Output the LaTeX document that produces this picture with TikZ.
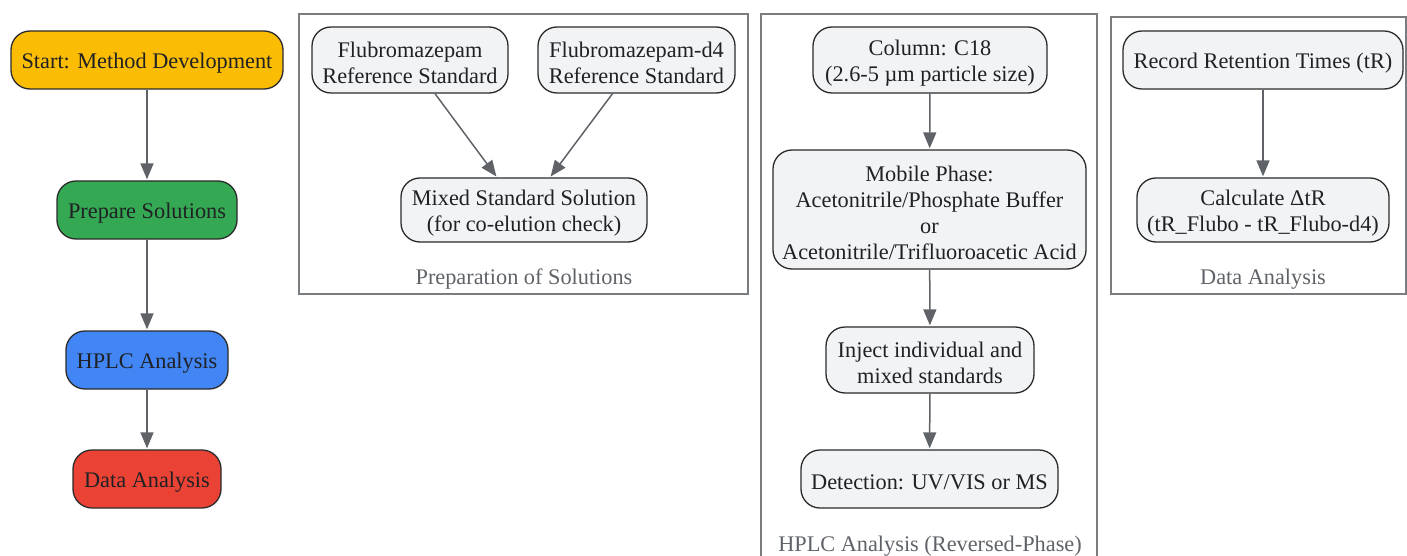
\documentclass[tikz,border=0pt]{standalone}
\usepackage{fontspec}
\setmainfont{Liberation Serif}
\usetikzlibrary{arrows.meta}
\definecolor{cyel}{HTML}{FBBC04}
\definecolor{cgrn}{HTML}{34A853}
\definecolor{cblu}{HTML}{4285F4}
\definecolor{cred}{HTML}{EA4335}
\definecolor{cbox}{HTML}{F1F3F4}
\definecolor{cedge}{HTML}{2B2B2B}
\definecolor{carr}{HTML}{5F6368}
\definecolor{cclu}{HTML}{7A7D80}
\definecolor{ctxt}{HTML}{202124}
\tikzset{
  box/.style={draw=cedge, line width=1.3pt, rounded corners=19pt, fill=cbox, inner sep=0pt},
  every label/.style={align=center, text=ctxt, inner sep=0pt, yshift=-3pt,
     font=\fontsize{22.3}{26}\selectfont},
  arr/.style={draw=carr, line width=1.5pt, -{Triangle[length=16pt,width=13pt]}, shorten >=1pt},
  clu/.style={draw=cclu, line width=1.5pt},
  clulab/.style={text=carr, font=\fontsize{22.3}{26}\selectfont, inner sep=0pt}
}
\begin{document}
\begin{tikzpicture}[x=1pt,y=-1pt]
\useasboundingbox (0,0) rectangle (1407,556);
% clusters
\draw[clu] (299,14) rectangle (748,294);
\node[clulab] (lab1) at (524,279) {Preparation of Solutions};
\draw[clu] (761,14) rectangle (1097,570);
\node[clulab] (lab2) at (930,546) {HPLC Analysis (Reversed-Phase)};
\draw[clu] (1111,17) rectangle (1406,294);
\node[clulab] (lab3) at (1263,279) {Data Analysis};
% main column
\node[box, fill=cyel, minimum width=272pt, minimum height=58pt, label={center:Start: Method Development}] (start) at (147,60) {};
\node[box, fill=cgrn, minimum width=180pt, minimum height=58pt, label={center:Prepare Solutions}] (prep) at (147,210) {};
\node[box, fill=cblu, minimum width=162pt, minimum height=58pt, label={center:HPLC Analysis}] (hplc) at (147,360) {};
\node[box, fill=cred, minimum width=148pt, minimum height=58pt, label={center:Data Analysis}] (data) at (147,479) {};
\draw[arr] (start) -- (prep);
\draw[arr] (prep) -- (hplc);
\draw[arr] (hplc) -- (data);
% preparation
\node[box, minimum width=196pt, minimum height=66pt, label={center:Flubromazepam\\Reference Standard}] (flu) at (410,60) {};
\node[box, minimum width=197pt, minimum height=66pt, label={center:Flubromazepam-d4\\Reference Standard}] (fld) at (636.5,60) {};
\node[box, minimum width=246pt, minimum height=64pt, label={center:Mixed Standard Solution\\(for co-elution check)}] (mix) at (524,210) {};
\draw[arr] ([xshift=25pt]flu.south) -- ([xshift=-27pt]mix.north);
\draw[arr] ([xshift=-24pt]fld.south) -- ([xshift=26pt]mix.north);
% hplc
\node[box, minimum width=234pt, minimum height=66pt, label={center:Column: C18\\(2.6-5 µm particle size)}] (col) at (930,60) {};
\node[box, minimum width=313pt, minimum height=119pt, label={center:Mobile Phase:\\Acetonitrile/Phosphate Buffer\\or\\Acetonitrile/Trifluoroacetic Acid}] (mob) at (929.5,209.5) {};
\node[box, minimum width=208pt, minimum height=66pt, label={center:Inject individual and\\mixed standards}] (inj) at (930,360) {};
\node[box, minimum width=257pt, minimum height=58pt, label={center:Detection: UV/VIS or MS}] (det) at (929.5,479) {};
\draw[arr] (col) -- (mob);
\draw[arr] (mob) -- (inj);
\draw[arr] (inj) -- (det);
% data analysis
\node[box, minimum width=280pt, minimum height=58pt, label={center:Record Retention Times (tR)}] (rec) at (1263,60) {};
\node[box, minimum width=252pt, minimum height=64pt, label={center:Calculate ΔtR\\(tR\_Flubo - tR\_Flubo-d4)}] (calc) at (1263,210) {};
\draw[arr] (rec) -- (calc);
\end{tikzpicture}
\end{document}
